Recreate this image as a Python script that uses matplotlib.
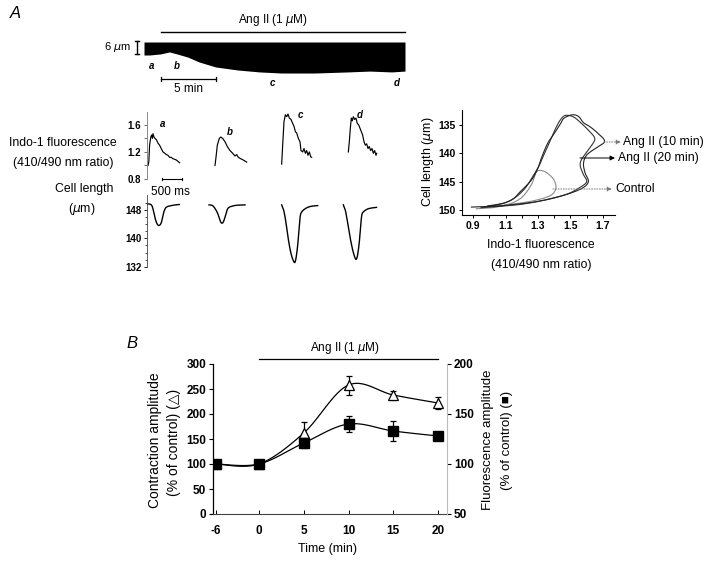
import numpy as np
import matplotlib
matplotlib.use("Agg")
import matplotlib.pyplot as plt
from matplotlib import font_manager
from matplotlib.transforms import blended_transform_factory as blend

plt.rcParams['font.family'] = ['Liberation Sans', 'DejaVu Sans']
_names = {f.name for f in font_manager.fontManager.ttflist}
TICK_FAMILY = ['Liberation Sans Narrow', 'Liberation Sans'] if 'Liberation Sans Narrow' in _names else ['Liberation Sans']

# ---------------- data ----------------
# Panel A top: contraction envelope (min, shortening in um)
band_time = [-1.5, -1.0, 0.0, 0.8, 1.5, 2.5, 3.5, 5.0, 7.0, 9.0, 11.0, 14.0, 17.0, 19.0, 21.0, 22.2]
band_short = [6.0, 6.0, 5.5, 4.6, 5.5, 7.0, 9.2, 11.5, 12.9, 13.8, 14.3, 14.3, 13.8, 13.4, 13.8, 13.4]

# Indo-1 fluorescence transients (ms, ratio)
fa_t = [0, 20, 40, 70, 90, 110, 125, 150, 175, 210, 250, 290, 330, 375, 420, 460, 500, 540, 580, 625, 670, 710, 750, 790]
fa_v = [1.0, 1.05, 1.3, 1.42, 1.45, 1.40, 1.47, 1.42, 1.40, 1.38, 1.33, 1.30, 1.25, 1.20, 1.18, 1.16, 1.15, 1.12, 1.12, 1.10, 1.09, 1.08, 1.06, 1.04]
fb_t = [0, 25, 58, 108, 142, 192, 250, 308, 375, 442, 500, 542, 583, 642, 708, 792]
fb_v = [1.0, 1.12, 1.30, 1.40, 1.42, 1.40, 1.35, 1.28, 1.22, 1.18, 1.14, 1.16, 1.12, 1.10, 1.08, 1.05]
fc_t = [0, 25, 58, 92, 125, 158, 192, 233, 275, 308, 342, 375, 417, 458, 483, 525, 558, 592, 625, 658, 692, 725, 750]
fc_v = [1.02, 1.30, 1.65, 1.75, 1.72, 1.76, 1.70, 1.68, 1.62, 1.58, 1.50, 1.48, 1.40, 1.35, 1.22, 1.20, 1.25, 1.18, 1.22, 1.15, 1.20, 1.13, 1.12]
fd_t = [0, 25, 50, 75, 100, 125, 158, 192, 225, 258, 292, 325, 358, 392, 425, 458, 492, 525, 558, 592, 625, 658, 692, 708]
fd_v = [1.20, 1.35, 1.55, 1.70, 1.66, 1.72, 1.68, 1.70, 1.62, 1.60, 1.55, 1.50, 1.45, 1.35, 1.30, 1.32, 1.25, 1.28, 1.22, 1.25, 1.18, 1.22, 1.15, 1.18]

# Cell length twitches (ms, um)
la_t = [0, 100, 150, 200, 250, 300, 350, 400, 450, 500, 600, 700, 800]
la_v = [149.8, 149.5, 148.0, 145.5, 144.0, 143.7, 144.5, 147.0, 148.5, 149.0, 149.3, 149.5, 149.6]
lb_t = [0, 100, 200, 250, 300, 350, 400, 450, 500, 600, 700, 900]
lb_v = [149.5, 149.2, 147.5, 146.0, 144.5, 144.5, 146.0, 148.0, 148.8, 149.2, 149.4, 149.5]
lc_t = [0, 50, 100, 150, 200, 250, 300, 330, 360, 400, 430, 460, 500, 600, 700, 800, 900]
lc_v = [149.5, 148.0, 145.0, 141.0, 137.5, 135.0, 133.5, 133.2, 134.5, 138.0, 142.0, 146.0, 147.5, 148.5, 149.0, 149.2, 149.3]
ld_t = [0, 50, 100, 150, 200, 250, 300, 330, 360, 400, 430, 460, 500, 600, 700, 830]
ld_v = [149.5, 148.0, 145.0, 141.5, 138.5, 136.0, 134.3, 134.2, 135.5, 139.0, 143.0, 146.5, 147.5, 148.3, 148.6, 148.8]
trace_names = ['a', 'b', 'c', 'd']

# Phase-plane loops (fluorescence ratio, cell length um)
loop10_x = [0.89, 0.99, 1.10, 1.30, 1.46, 1.57, 1.61, 1.59, 1.58, 1.60, 1.66, 1.71, 1.67, 1.62, 1.58, 1.55, 1.51, 1.46, 1.44, 1.40, 1.36, 1.32, 1.30, 1.26, 1.19, 1.15, 1.09, 0.99]
loop10_y = [149.5, 149.4, 149.2, 148.5, 147.4, 146.2, 145.0, 143.5, 141.8, 140.3, 139.0, 137.9, 136.5, 135.3, 134.6, 133.5, 133.2, 133.8, 134.7, 136.5, 138.2, 140.9, 142.6, 144.7, 146.8, 148.0, 148.8, 149.3]
loop20_x = [0.95, 1.05, 1.20, 1.35, 1.48, 1.56, 1.60, 1.58, 1.56, 1.57, 1.62, 1.65, 1.62, 1.57, 1.52, 1.47, 1.44, 1.41, 1.38, 1.34, 1.31, 1.27, 1.22, 1.16, 1.10, 1.02]
loop20_y = [149.6, 149.4, 149.0, 148.2, 147.2, 146.0, 145.0, 143.8, 142.2, 141.0, 139.0, 137.5, 136.2, 134.8, 133.6, 133.3, 134.0, 135.5, 137.5, 140.0, 142.0, 144.0, 146.2, 147.8, 148.7, 149.3]
loopc_x = [0.92, 1.02, 1.12, 1.20, 1.26, 1.29, 1.33, 1.37, 1.40, 1.41, 1.38, 1.30, 1.19, 1.05, 0.95]
loopc_y = [149.8, 149.6, 149.0, 147.8, 145.5, 143.3, 143.1, 143.8, 144.8, 146.2, 147.4, 148.2, 148.8, 149.3, 149.6]

# Panel B
time_min = [-6, 0, 5, 10, 15, 20]
time_labels = ['-6', '0', '5', '10', '15', '20']
contraction = [100, 100, 162, 258, 238, 222]
contraction_err = [0, 0, 22, 19, 9, 12]
fluor_amp = [100, 100, 121, 140, 133, 128]
fluor_err = [0, 0, 5, 8, 10, 2]

# ---------------- helpers ----------------
W, H = 720, 566
fig = plt.figure(figsize=(W / 100, H / 100), dpi=100)


def px_axes(x0, y0, x1, y1):
    return fig.add_axes([x0 / W, 1 - y1 / H, (x1 - x0) / W, (y1 - y0) / H])


def smooth(x, y, n=16):
    x = np.asarray(x, float)
    y = np.asarray(y, float)
    P = np.column_stack([x, y])
    P = np.vstack([P[0], P, P[-1]])
    out = []
    for i in range(1, len(P) - 2):
        p0, p1, p2, p3 = P[i - 1], P[i], P[i + 1], P[i + 2]
        t = np.linspace(0, 1, n, endpoint=False)[:, None]
        seg = 0.5 * ((2 * p1) + (-p0 + p2) * t + (2 * p0 - 5 * p1 + 4 * p2 - p3) * t ** 2 + (-p0 + 3 * p1 - 3 * p2 + p3) * t ** 3)
        out.append(seg)
    out.append(P[-2][None, :])
    out = np.vstack(out)
    return out[:, 0], out[:, 1]


tick_font = dict(fontweight='bold', family=TICK_FAMILY)

# ---------------- Panel A: envelope ----------------
axb = px_axes(144, 42, 405, 76)
axb.fill_between(band_time, [-s for s in band_short], 0, color='black', lw=0)
axb.set_xlim(-1.5, 22.2)
axb.set_ylim(-34 / 2.17, 0)
axb.axis('off')
tb = blend(axb.transData, axb.transAxes)
axb.plot([0, 22.2], [1.294, 1.294], color='black', lw=1.0, transform=tb, clip_on=False)
axb.text(10.2, 1.66, 'Ang II (1 $\\mu$M)', transform=tb, ha='center', va='center', fontsize=8.5)
# 5 min bar
axb.plot([0, 5], [-0.088, -0.088], color='black', lw=0.9, transform=tb, clip_on=False)
for xx in (0, 5):
    axb.plot([xx, xx], [-0.04, -0.14], color='black', lw=0.9, transform=tb, clip_on=False)
axb.text(2.5, -0.39, '5 min', transform=tb, ha='center', va='center', fontsize=8.5)
# 6 um bar
axb.plot([-2.14, -2.14], [0.4, -5.6], color='black', lw=1.0, clip_on=False)
for yy in (0.4, -5.6):
    axb.plot([-2.34, -1.94], [yy, yy], color='black', lw=1.0, clip_on=False)
axb.text(-2.7, -2.3, '6 $\\mu$m', ha='right', va='center', fontsize=8)

# ---------------- Panel A: traces ----------------
fl_offsets = [25, 1700, 3367, 5033]
ln_offsets = [8, 1550, 3367, 4908]

axf = px_axes(147, 112, 385, 179)
for (t, v), off in zip([(fa_t, fa_v), (fb_t, fb_v), (fc_t, fc_v), (fd_t, fd_v)], fl_offsets):
    axf.plot(np.array(t) + off, v, color='black', lw=0.85)
axf.set_xlim(0, 5950)
axf.set_ylim(0.8, 1.79)
axf.set_yticks([0.8, 1.2, 1.6])
axf.set_yticklabels(['0.8', '1.2', '1.6'], fontsize=7, **tick_font)
axf.set_yticks([1.0, 1.4], minor=True)
axf.set_xticks([])
for s in ['top', 'right', 'bottom']:
    axf.spines[s].set_visible(False)
axf.spines['left'].set_color('#777777')
axf.spines['left'].set_linewidth(0.6)
axf.tick_params(axis='y', which='both', length=2, width=0.6, pad=2, color='#555555')
# 500 ms bar
axf.plot([375, 875], [0.8, 0.8], color='black', lw=0.8, clip_on=False)
for xx in (375, 875):
    axf.plot([xx, xx], [0.785, 0.815], color='black', lw=0.8, clip_on=False)
axf.text(575, 0.607, '500 ms', ha='center', va='center', fontsize=8.5)

axl = px_axes(147, 195, 385, 267)
for (t, v), off in zip([(la_t, la_v), (lb_t, lb_v), (lc_t, lc_v), (ld_t, ld_v)], ln_offsets):
    sx, sy = smooth(np.array(t) + off, v)
    axl.plot(sx, sy, color='black', lw=1.0)
axl.set_xlim(0, 5950)
axl.set_ylim(131.9, 152.3)
axl.set_yticks([132, 140, 148])
axl.set_yticklabels(['132', '140', '148'], fontsize=7, **tick_font)
axl.set_yticks([134, 136, 138, 142, 144, 146, 150], minor=True)
axl.set_xticks([])
for s in ['top', 'right', 'bottom']:
    axl.spines[s].set_visible(False)
axl.spines['left'].set_linewidth(0.6)
axl.spines['left'].set_color('#444444')
axl.tick_params(axis='y', which='major', length=2, width=0.6, pad=2)
axl.tick_params(axis='y', which='minor', length=1.2, width=0.5)

# ---------------- Panel A: loops ----------------
axp = px_axes(462, 110, 615, 215)
sx, sy = smooth(loopc_x, loopc_y)
axp.plot(sx, sy, color='#8a8a8a', lw=0.8)
sx, sy = smooth(loop20_x, loop20_y)
axp.plot(sx, sy, color='#333333', lw=0.8)
sx, sy = smooth(loop10_x, loop10_y)
axp.plot(sx, sy, color='#222222', lw=0.8)
axp.set_xlim(0.832, 1.774)
axp.set_ylim(150.9, 132.35)
axp.set_xticks([0.9, 1.1, 1.3, 1.5, 1.7])
axp.set_xticklabels(['0.9', '1.1', '1.3', '1.5', '1.7'], fontsize=7.5, **tick_font)
axp.set_xticks([1.0, 1.2, 1.4, 1.6], minor=True)
axp.set_yticks([135, 140, 145, 150])
axp.set_yticklabels(['135', '140', '145', '150'], fontsize=7.5, **tick_font)
for s in ['top', 'right']:
    axp.spines[s].set_visible(False)
for s in ['left', 'bottom']:
    axp.spines[s].set_linewidth(0.8)
axp.tick_params(axis='both', which='both', length=2.5, width=0.7, pad=2)

# ---------------- Panel B ----------------
pos = [t * 0.8 if t < 0 else t for t in time_min]
axB = px_axes(213, 364, 447, 514)
axB.set_xlim(-5.14, 21.0)
axB.set_ylim(0, 300)
axR = axB.twinx()
axR.set_ylim(50, 200)

sx, sy = smooth(pos, contraction)
axB.plot(sx, sy, color='black', lw=0.9, zorder=2)
axB.errorbar(pos, contraction, yerr=contraction_err, fmt='none', ecolor='black', elinewidth=0.9, capsize=2.5, capthick=0.9, zorder=3)
axB.plot(pos, contraction, linestyle='none', marker='^', markersize=6.5, markerfacecolor='white', markeredgecolor='black', markeredgewidth=0.9, zorder=4)

sx, sy = smooth(pos, fluor_amp)
axR.plot(sx, sy, color='black', lw=0.9, zorder=2)
axR.errorbar(pos, fluor_amp, yerr=fluor_err, fmt='none', ecolor='black', elinewidth=0.9, capsize=2.5, capthick=0.9, zorder=3)
axR.plot(pos, fluor_amp, linestyle='none', marker='s', markersize=7, color='black', zorder=4)

axB.set_xticks(pos)
axB.set_xticklabels(time_labels, fontsize=8.5, **tick_font)
axB.set_yticks([0, 50, 100, 150, 200, 250, 300])
axB.set_yticklabels(['0', '50', '100', '150', '200', '250', '300'], fontsize=8.5, **tick_font)
axR.set_yticks([50, 100, 150, 200])
axR.set_yticklabels(['50', '100', '150', '200'], fontsize=8.5, **tick_font)
axB.tick_params(axis='x', direction='in', length=3, width=0.7, pad=8)
axB.tick_params(axis='y', direction='out', length=3, width=0.8, pad=2)
axR.tick_params(axis='y', direction='out', length=3, width=0.8, pad=2)
for a in (axB, axR):
    a.spines['top'].set_visible(False)
axB.spines['right'].set_visible(False)
axR.spines['left'].set_visible(False)
axR.spines['bottom'].set_visible(False)
axR.spines['right'].set_color('#bbbbbb')
axR.spines['right'].set_linewidth(0.8)
axB.spines['left'].set_linewidth(0.9)
axB.spines['bottom'].set_linewidth(0.8)
axB.spines['bottom'].set_color('#444444')

tB = blend(axB.transData, axB.transAxes)
axB.plot([0, 20], [1.033, 1.033], color='black', lw=0.9, transform=tB, clip_on=False)
axB.text(9.6, 1.105, 'Ang II (1 $\\mu$M)', transform=tB, ha='center', va='center', fontsize=8.5)

# ---------------- text overlay ----------------
ov = fig.add_axes([0, 0, 1, 1])
ov.set_xlim(0, W)
ov.set_ylim(H, 0)
ov.axis('off')
ov.patch.set_alpha(0)

ov.text(15, 14, 'A', fontsize=12, style='italic', ha='center', va='center')
ov.text(132, 343, 'B', fontsize=12, style='italic', ha='center', va='center')

letter = dict(fontsize=7, fontweight='bold', style='italic', ha='center', va='center')
for name, (x, y) in zip(trace_names, [(152, 66), (177, 66), (272, 83), (397, 83)]):
    ov.text(x, y, name, **letter)
for name, (x, y) in zip(trace_names, [(163, 124), (230, 132), (300, 115), (360, 115)]):
    ov.text(x, y, name, **letter)

ov.text(63, 143, 'Indo-1 fluorescence', fontsize=8.8, ha='center', va='center')
ov.text(63, 163, '(410/490 nm ratio)', fontsize=8.8, ha='center', va='center')
ov.text(84, 189, 'Cell length', fontsize=8.8, ha='center', va='center')
ov.text(82, 209, '($\\mu$m)', fontsize=8.8, ha='center', va='center')

ov.text(428, 162, 'Cell length ($\\mu$m)', fontsize=9, rotation=90, ha='center', va='center')
ov.text(541, 245, 'Indo-1 fluorescence', fontsize=8.8, ha='center', va='center')
ov.text(541, 265, '(410/490 nm ratio)', fontsize=8.8, ha='center', va='center')

arrow_kw = dict(arrowstyle='-|>', mutation_scale=7, lw=0.7, shrinkA=0, shrinkB=0)
ov.annotate('', xy=(621, 142), xytext=(604, 142), arrowprops=dict(color='#777777', linestyle=':', **arrow_kw))
ov.text(623, 142, 'Ang II (10 min)', fontsize=8.8, ha='left', va='center')
ov.annotate('', xy=(615, 158), xytext=(580, 158), arrowprops=dict(color='black', **arrow_kw))
ov.text(618, 158, 'Ang II (20 min)', fontsize=8.8, ha='left', va='center')
ov.annotate('', xy=(612, 189), xytext=(553, 189), arrowprops=dict(color='#777777', linestyle=':', **arrow_kw))
ov.text(615, 189, 'Control', fontsize=8.8, ha='left', va='center')

ov.text(155, 440, 'Contraction amplitude', fontsize=10, rotation=90, ha='center', va='center')
ov.text(174, 442, '(% of control) (\u25b3)', fontsize=10, rotation=90, ha='center', va='center')
ov.text(488, 440, 'Fluorescence amplitude', fontsize=9.5, rotation=90, ha='center', va='center')
ov.text(507, 440, '(% of control) (\u25a0)', fontsize=9.5, rotation=90, ha='center', va='center')
ov.text(328, 549, 'Time (min)', fontsize=9, ha='center', va='center')

fig.savefig('out.png', dpi=100)
